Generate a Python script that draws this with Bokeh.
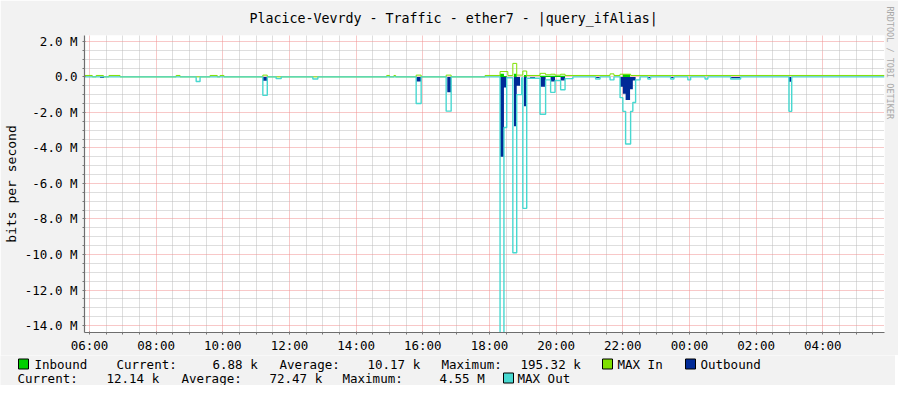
import numpy as np
from bokeh.plotting import figure
from bokeh.layouts import column
from bokeh.models import FixedTicker, Label, BoxAnnotation, Range1d, Title
from bokeh.embed import file_html
from bokeh.resources import INLINE

# ---------------- data (Mbit/s); step series: value holds from its time to the next time
in_t = ["05:51", "18:19", "18:26", "18:31", "18:44", "18:49", "19:02", "19:07", "19:31",
        "20:16", "22:00", "22:13", "05:51"]
in_v = [0.0, 0.17, 0.05, 0.0, 0.17, 0.0, 0.1, 0.0, 0.06, 0.0, 0.15, 0.0, 0.0]

max_in_t = ["05:51", "06:05", "06:12", "06:25", "06:35", "06:55", "08:36", "08:43", "09:37",
            "09:50", "09:55", "10:02", "11:12", "11:20", "14:55", "15:00", "15:08", "15:11",
            "15:48", "15:57", "16:42", "16:51", "17:52", "18:19", "18:33", "18:42", "18:49",
            "19:00", "19:07", "19:31", "19:41", "19:50", "19:58", "20:08", "20:16", "21:37",
            "21:44", "21:55", "22:14", "05:51"]
max_in_v = [0.08, 0, 0.08, 0, 0.08, 0, 0.08, 0, 0.08,
            0, 0.08, 0, 0.1, 0, 0.08, 0, 0.08, 0,
            0.1, 0, 0.1, 0, 0.08, 0.3, 0.08, 0.76, 0.1,
            0.33, 0.08, 0.2, 0.12, 0.15, 0.1, 0.15, 0.08, 0.17,
            0.08, 0.15, 0.08, 0.08]

out_t = ["05:51", "06:19", "06:26", "11:12", "11:20", "15:48", "15:57", "16:44", "16:51",
         "18:19", "18:26", "18:31", "18:44", "18:49", "18:55", "19:02", "19:07", "19:13", "19:22",
         "19:32", "19:41", "19:50", "19:58", "20:08", "20:16", "21:11", "21:19",
         "21:55", "22:00", "22:05", "22:13", "22:18", "22:23", "22:45", "22:50", "23:26", "23:32",
         "01:14", "01:32", "02:59", "03:04", "05:51"]
out_v = [0, -0.06, 0, -0.22, 0, -0.26, 0, -0.87, 0,
         -4.5, -0.6, 0, -2.78, -0.5, 0, -1.65, 0, -0.1, 0,
         -0.56, 0, -0.26, 0, -0.2, 0, -0.06, 0,
         -0.55, -0.95, -1.3, -0.7, -0.2, 0, -0.06, 0, -0.06, 0,
         -0.08, 0, -0.28, 0, 0]

max_out_t = ["05:51", "09:12", "09:19", "11:12", "11:20", "11:36", "11:45", "12:42", "12:51",
             "15:48", "15:57", "16:42", "16:51", "18:19", "18:26", "18:31", "18:42", "18:49", "18:58",
             "19:00", "19:07", "19:31", "19:41", "19:50", "19:58", "20:08", "20:16", "20:30",
             "21:11", "21:19", "21:37", "21:44", "21:55", "22:00", "22:05", "22:14", "22:18", "22:23", "22:31",
             "22:45", "22:50", "23:26", "23:32", "23:57", "00:02", "00:28", "00:33", "01:14", "01:32",
             "02:59", "03:04", "05:51"]
max_out_v = [0, -0.26, 0, -1.04, 0, -0.1, 0, -0.12, 0,
             -1.5, 0, -1.93, 0, -16.0, -2.85, -0.05, -9.9, -1.0, -0.05,
             -7.4, -0.08, -2.1, -0.17, -0.87, -0.2, -0.72, -0.1, 0,
             -0.12, 0, -0.17, 0, -1.17, -1.94, -3.78, -1.94, -1.44, -0.17, 0,
             -0.12, 0, -0.12, 0, -0.17, 0, -0.12, 0, -0.12, 0,
             -1.94, 0, 0]

x_ticks = [6, 8, 10, 12, 14, 16, 18, 20, 22, 24, 26, 28]
x_tick_labels = ["06:00", "08:00", "10:00", "12:00", "14:00", "16:00", "18:00", "20:00",
                 "22:00", "00:00", "02:00", "04:00"]
y_ticks = [2, 0, -2, -4, -6, -8, -10, -12, -14]
y_tick_labels = ["2.0 M", "0.0", "-2.0 M", "-4.0 M", "-6.0 M", "-8.0 M", "-10.0 M",
                 "-12.0 M", "-14.0 M"]

title = "Placice-Vevrdy - Traffic - ether7 - |query_ifAlias|"
y_label = "bits per second"
watermark = "RRDTOOL / TOBI OETIKER"
series_names = ["Inbound", "MAX In", "Outbound", "MAX Out"]
series_colors = ["#00CF00", "#7FE000", "#002A97", "#48D8D0"]
in_stats = ["6.88 k", "10.17 k", "195.32 k"]
out_stats = ["12.14 k", "72.47 k", "4.55 M"]


def to_hours(times):
    out, offset, prev = [], 0.0, -1.0
    for s in times:
        h, m = map(int, s.split(":"))
        v = h + m / 60.0 + offset
        if v < prev:
            offset += 24.0
            v += 24.0
        out.append(v)
        prev = v
    return out


FONT = "DejaVu Sans Mono"
BG = "#F2F2F2"
X0 = to_hours(["05:51"])[0]

# ---------------- main chart
p = figure(frame_width=800, frame_height=297, min_border_left=81, min_border_right=14,
           min_border_top=35, min_border_bottom=22, output_backend="svg",
           toolbar_location=None,
           x_range=Range1d(X0, X0 + 24), y_range=Range1d(-14.39, 2.33))
p.background_fill_color = "white"
p.border_fill_color = BG
p.outline_line_color = None

p.title.text = title
p.title.text_font = FONT
p.title.text_font_size = "13.3px"
p.title.text_font_style = "normal"
p.title.text_color = "black"
p.title.align = "left"
p.title.vertical_align = "top"
p.title.offset = 165
p.title.standoff = 16

p.add_layout(Title(text=watermark, align="left", text_font=FONT, text_font_size="8.5px",
                   text_font_style="normal", text_color="#A8A8A8", standoff=1,
                   offset=-29), "right")

# grid
p.xaxis.ticker = FixedTicker(ticks=x_ticks,
                             minor_ticks=[t for t in np.arange(5.5, 30.01, 0.5) if t % 2 != 0])
p.yaxis.ticker = FixedTicker(ticks=y_ticks,
                             minor_ticks=[t for t in np.arange(-15, 3.01, 0.5) if t % 2 != 0])
for g in (p.xgrid, p.ygrid):
    g.grid_line_color = "#F09090"
    g.grid_line_dash = "1 1"
    g.minor_grid_line_color = "#BDBDBD"
    g.minor_grid_line_dash = "1 1"

p.xaxis.major_label_overrides = dict(zip(x_ticks, x_tick_labels))
p.yaxis.major_label_overrides = dict(zip(y_ticks, y_tick_labels))
for ax in (p.xaxis[0], p.yaxis[0]):
    ax.axis_line_color = "#6E6E6E"
    ax.axis_line_width = 1.2
    ax.major_tick_line_color = "#777777"
    ax.minor_tick_line_color = "#777777"
    ax.major_tick_out = 2
    ax.major_tick_in = 1
    ax.minor_tick_out = 2
    ax.minor_tick_in = 0
    ax.major_label_text_font = FONT
    ax.major_label_text_font_size = "12.5px"
    ax.major_label_text_color = "black"
p.xaxis.major_label_standoff = 3
p.yaxis.major_label_standoff = 5
p.yaxis.axis_label = y_label
p.yaxis.axis_label_text_font = FONT
p.yaxis.axis_label_text_font_size = "13px"
p.yaxis.axis_label_text_font_style = "normal"
p.yaxis.axis_label_text_color = "black"
p.yaxis.axis_label_standoff = 3

# series
xi = to_hours(in_t)
p.varea_step(x=xi, y1=[0] * len(xi), y2=in_v, step_mode="after",
             fill_color=series_colors[0])
p.step(to_hours(max_in_t), max_in_v, mode="after", line_color=series_colors[1], line_width=1.0)
xo = to_hours(out_t)
p.varea_step(x=xo, y1=[0] * len(xo), y2=out_v, step_mode="after",
             fill_color=series_colors[2])
p.step(to_hours(max_out_t), max_out_v, mode="after", line_color=series_colors[3], line_width=1.4)

# ---------------- legend strip (its frame is the whole strip; coordinates = page pixels)
TOP = 354
LH = 30
q = figure(width=895, height=LH, min_border=0, output_backend="svg", toolbar_location=None,
           x_axis_type=None, y_axis_type=None,
           x_range=Range1d(0, 895), y_range=Range1d(TOP + LH, TOP))
q.grid.visible = False
q.outline_line_color = None
q.background_fill_color = BG
q.border_fill_color = BG

for fig in (p, q):
    try:
        fig.frame_align = False
    except Exception:
        pass


def lab(text, X, Y):
    q.add_layout(Label(x=X, y=Y, text=text, text_font=FONT, text_font_size="12.5px",
                       text_align="left", text_baseline="middle", text_color="black"))


def box(X, Y, color):
    q.add_layout(BoxAnnotation(left=X, right=X + 10, top=Y - 5, bottom=Y + 5,
                               fill_color=color, fill_alpha=1, line_color="black",
                               line_alpha=1, line_width=1))


R1, R2 = 362.5, 376.5
box(18, R1, series_colors[0])
lab(series_names[0], 34, R1)
lab("Current:", 116, R1)
lab(in_stats[0], 212, R1)
lab("Average:", 279, R1)
lab(in_stats[1], 367, R1)
lab("Maximum:", 441, R1)
lab(in_stats[2], 520, R1)
box(602, R1, series_colors[1])
lab(series_names[1], 617, R1)
box(685, R1, series_colors[2])
lab(series_names[2], 700, R1)

lab("Current:", 17, R2)
lab(out_stats[0], 106, R2)
lab("Average:", 181, R2)
lab(out_stats[1], 269, R2)
lab("Maximum:", 342, R2)
lab(out_stats[2], 439, R2)
box(503, R2, series_colors[3])
lab(series_names[3], 517, R2)

layout = column(p, q, spacing=0)
open("out.html", "w").write(file_html(layout, INLINE))
